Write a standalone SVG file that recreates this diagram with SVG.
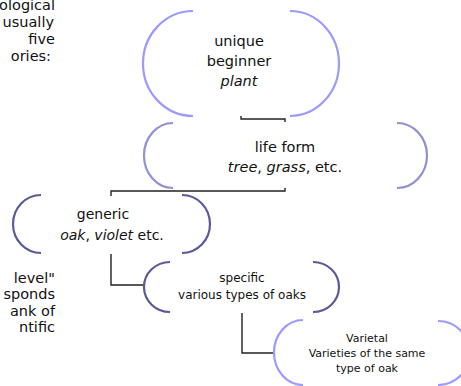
<svg xmlns="http://www.w3.org/2000/svg" width="461" height="386" viewBox="0 0 461 386">
<style>
text{font-family:"Comic Sans MS","DejaVu Sans",sans-serif;fill:#111}
.c{text-anchor:middle}
.e{text-anchor:end;font-size:14.5px}
.arc{fill:none;stroke-width:2.2}
.a1{stroke:#9a9aff}
.a2{stroke:#9090d2}
.a3{stroke:#5a5a98}
.conn{fill:none;stroke:#222;stroke-width:1.4}
</style>
<rect width="461" height="386" fill="#fff"/>
<g id="side-text">
<text class="e" x="55" y="10">ological</text>
<text class="e" x="54" y="27">usually</text>
<text class="e" x="55" y="44">five</text>
<text class="e" x="51" y="61">ories:</text>
<text class="e" x="55" y="283">level"</text>
<text class="e" x="55" y="299">sponds</text>
<text class="e" x="55" y="316">ank of</text>
<text class="e" x="55" y="332">ntific</text>
</g>
<g id="connectors">
<path class="conn" d="M241,116 V119 H285 V122"/>
<path class="conn" d="M285,188 V191 H111 V196"/>
<path class="conn" d="M111,254 V285 H144"/>
<path class="conn" d="M242,313 V353 H274"/>
</g>
<g id="unique-beginner">
<path class="arc a1" d="M193,11 A50,52.5 0 0 0 193,116"/>
<path class="arc a1" d="M290,11 A49,52.5 0 0 1 290,116"/>
<text class="c" x="239" y="46" font-size="14.5">unique</text>
<text class="c" x="239" y="66" font-size="14.5">beginner</text>
<text class="c" x="239" y="86" font-size="14.5" font-style="italic">plant</text>
</g>
<g id="life-form">
<path class="arc a2" d="M173,123 A29,32.5 0 0 0 173,188"/>
<path class="arc a2" d="M397,123 A30,32.5 0 0 1 397,188"/>
<text class="c" x="285" y="152" font-size="14.5">life form</text>
<text class="c" x="285" y="172" font-size="14.5"><tspan font-style="italic">tree</tspan>, <tspan font-style="italic">grass</tspan>, etc.</text>
</g>
<g id="generic">
<path class="arc a3" d="M41,195 A28,29 0 0 0 41,253"/>
<path class="arc a3" d="M182,195 A28,29 0 0 1 182,253"/>
<text class="c" x="103" y="219" font-size="14">generic</text>
<text class="c" x="112" y="240" font-size="14"><tspan font-style="italic">oak</tspan>, <tspan font-style="italic">violet</tspan> etc.</text>
</g>
<g id="specific">
<path class="arc a3" d="M170,262 A26,25 0 0 0 170,312"/>
<path class="arc a3" d="M313,262 A26,25 0 0 1 313,312"/>
<text class="c" x="242" y="282" font-size="12">specific</text>
<text class="c" x="242" y="299" font-size="12">various types of oaks</text>
</g>
<g id="varietal">
<path class="arc a1" d="M303,320 A29,32.5 0 0 0 303,385"/>
<path class="arc a1" d="M438,321 A32,32 0 0 1 438,385"/>
<text class="c" x="367" y="342" font-size="11">Varietal</text>
<text class="c" x="367" y="357" font-size="11">Varieties of the same</text>
<text class="c" x="367" y="372" font-size="11">type of oak</text>
</g>
</svg>
